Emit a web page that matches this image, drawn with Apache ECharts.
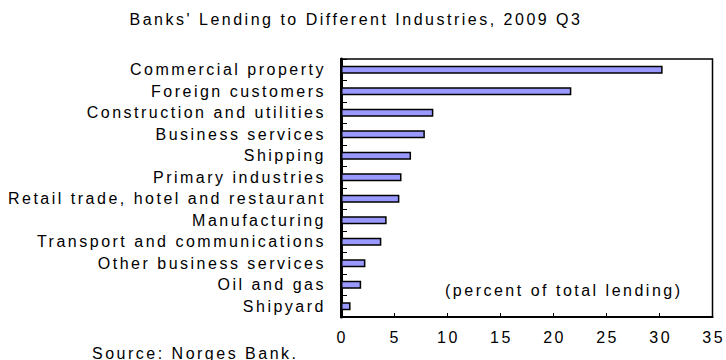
<!DOCTYPE html>
<html>
<head>
<meta charset="utf-8">
<script src="https://cdn.jsdelivr.net/npm/echarts@6/dist/echarts.min.js"></script>
<style>
  html, body { margin: 0; padding: 0; background: #fff; }
  #chart { width: 726px; height: 360px; }
  /* wide-tracked lettering used throughout the chart */
  #chart svg text { letter-spacing: 2.5px; }
</style>
</head>
<body>
<div id="chart"></div>
<script>
// Industries, listed bottom to top as drawn on the category axis
const industries = [
  'Shipyard',
  'Oil and gas',
  'Other business services',
  'Transport and communications',
  'Manufacturing',
  'Retail trade, hotel and restaurant',
  'Primary industries',
  'Shipping',
  'Business services',
  'Construction and utilities',
  'Foreign customers',
  'Commercial property'
];
// Share of total lending, percent
const lendingShare = [0.9, 1.9, 2.3, 3.8, 4.3, 5.5, 5.7, 6.6, 7.9, 8.7, 21.7, 30.3];
const xTicks = [0, 5, 10, 15, 20, 25, 30, 35];

const chart = echarts.init(document.getElementById('chart'), null, { renderer: 'svg' });
const font = 'Liberation Sans, Arial, sans-serif';

chart.setOption({
  animation: false,
  backgroundColor: '#ffffff',
  textStyle: { fontFamily: font },
  grid: {
    left: 341, right: 13.5, top: 59, bottom: 43,
    show: true, borderColor: '#000', borderWidth: 1.5, backgroundColor: 'transparent'
  },
  xAxis: {
    type: 'value',
    min: xTicks[0],
    max: xTicks[xTicks.length - 1],
    interval: 5,
    splitLine: { show: false },
    axisLine: { show: true, lineStyle: { color: '#000', width: 2 } },
    axisTick: { show: true, inside: true, length: 4, lineStyle: { color: '#000', width: 1 } },
    axisLabel: { color: '#000', fontSize: 16, fontFamily: font, margin: 12, padding: [0, 0, 0, 2.5] }
  },
  yAxis: {
    type: 'category',
    data: industries,
    axisLine: { show: true, lineStyle: { color: '#000', width: 3 } },
    axisTick: { show: true, inside: true, length: 6, lineStyle: { color: '#000', width: 1 } },
    axisLabel: { color: '#000', fontSize: 16, fontFamily: font, margin: 15, interval: 0, padding: [0, 0, 3, 0] }
  },
  series: [{
    type: 'bar',
    data: lendingShare,
    barWidth: 8,
    itemStyle: { color: '#9999ff', borderColor: '#000', borderWidth: 1.5 }
  }],
  graphic: [
    {
      type: 'text', x: 356, y: 19.5,
      style: {
        text: "Banks' Lending to Different Industries, 2009 Q3",
        fontSize: 16, fontFamily: font, fill: '#000', align: 'center', verticalAlign: 'middle'
      }
    },
    {
      type: 'text', x: 445, y: 290,
      style: {
        text: '(percent of total lending)',
        fontSize: 16, fontFamily: font, fill: '#000', align: 'left', verticalAlign: 'middle'
      }
    },
    {
      type: 'text', x: 92, y: 353,
      style: {
        text: 'Source: Norges Bank.',
        fontSize: 16, fontFamily: font, fill: '#000', align: 'left', verticalAlign: 'middle'
      }
    }
  ]
});
</script>
</body>
</html>
